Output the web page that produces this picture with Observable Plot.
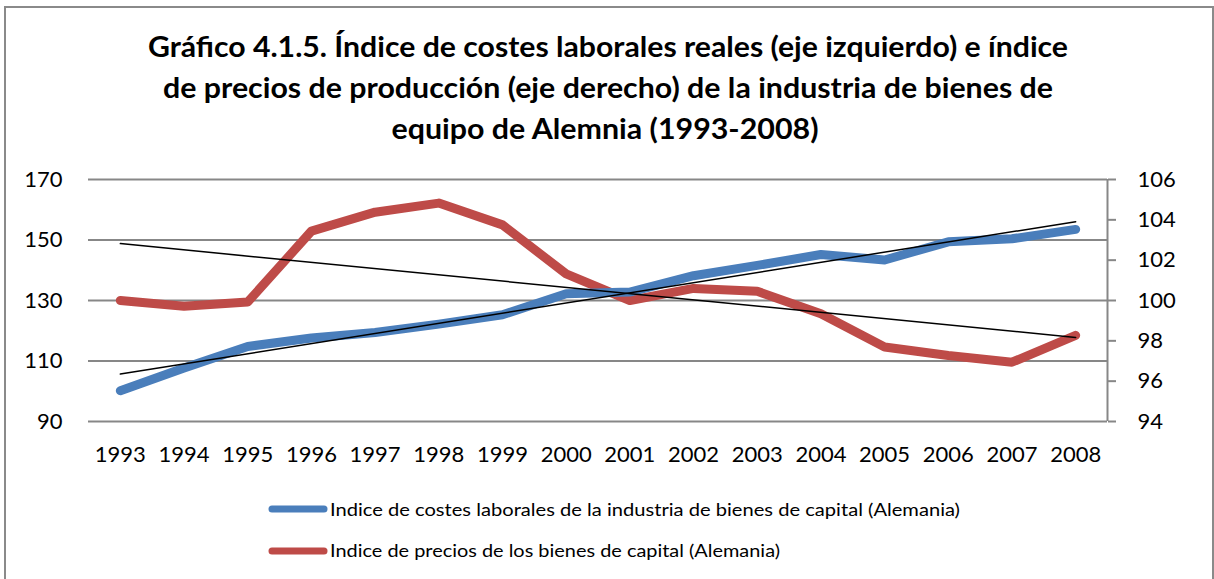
<!DOCTYPE html>
<html>
<head>
<meta charset="utf-8">
<script src="https://cdn.jsdelivr.net/npm/d3@7"></script>
<script src="https://cdn.jsdelivr.net/npm/@observablehq/plot@0.6"></script>
<style>
  html, body { margin: 0; padding: 0; background: #fff; }
  #chart { position: relative; width: 1214px; height: 579px; overflow: hidden; font-family: Lato, "Noto Sans", sans-serif; }
  #frame { position: absolute; left: 4px; top: 6px; width: 1210px; height: 620px; border: 2px solid #8a8a8a; box-sizing: border-box; }
  #title { position: absolute; left: 0; top: 0; }
  #plot { position: absolute; left: 0; top: 150px; }
  #legend { position: absolute; left: 0; top: 480px; }
</style>
</head>
<body>
<div id="chart">
  <div id="frame"></div>
  <svg id="title" width="1214" height="150" xmlns="http://www.w3.org/2000/svg">
    <g font-family="Lato, 'Noto Sans', sans-serif" font-weight="bold" font-size="28" fill="#000" text-anchor="middle">
      <text x="608" y="57" textLength="920" lengthAdjust="spacingAndGlyphs">Gráfico 4.1.5. Índice de costes laborales reales (eje izquierdo) e índice</text>
      <text x="608" y="98" textLength="890" lengthAdjust="spacingAndGlyphs">de precios de producción (eje derecho) de la industria de bienes de</text>
      <text x="605" y="139" textLength="427" lengthAdjust="spacingAndGlyphs">equipo de Alemnia (1993-2008)</text>
    </g>
  </svg>
  <div id="plot"></div>
  <svg id="legend" width="1214" height="99" xmlns="http://www.w3.org/2000/svg">
    <g font-family="Lato, 'Noto Sans', sans-serif" font-size="18" fill="#000">
      <line x1="272" x2="324" y1="29" y2="29" stroke="#4a7ebb" stroke-width="7" stroke-linecap="round"></line>
      <text x="330" y="36" textLength="630" lengthAdjust="spacingAndGlyphs">Indice de costes laborales de la industria de bienes de capital (Alemania)</text>
      <line x1="272" x2="324" y1="71" y2="71" stroke="#be4b48" stroke-width="7" stroke-linecap="round"></line>
      <text x="330" y="77" textLength="450" lengthAdjust="spacingAndGlyphs">Indice de precios de los bienes de capital (Alemania)</text>
    </g>
  </svg>
</div>
<script>
// ---- data ----
const years = [1993, 1994, 1995, 1996, 1997, 1998, 1999, 2000, 2001, 2002, 2003, 2004, 2005, 2006, 2007, 2008];
// Índice de costes laborales (eje izquierdo)
const costes = [100.2, 107.7, 114.8, 117.6, 119.4, 122.2, 125.3, 132.2, 132.8, 138.2, 141.6, 145.2, 143.4, 149.4, 150.4, 153.5];
// Índice de precios (eje derecho)
const precios = [100.0, 99.72, 99.92, 103.44, 104.38, 104.83, 103.75, 101.32, 100.0, 100.6, 100.46, 99.34, 97.69, 97.27, 96.94, 98.27];
// tick labels
const leftTicks = [90, 110, 130, 150, 170];
const rightTicks = [94, 96, 98, 100, 102, 104, 106];

// map right axis (94–106) onto left axis (90–170)
const toLeft = v => 90 + (v - 94) * 80 / 12;
const toRight = v => 94 + (v - 90) * 12 / 80;

const data = years.map((y, i) => ({ year: y, costes: costes[i], precios: precios[i], preciosL: toLeft(precios[i]) }));

const gray = "#878787";

const chart = Plot.plot({
  width: 1214,
  height: 330,
  marginTop: 29,
  marginBottom: 59,
  marginLeft: 88,
  marginRight: 107,
  style: { fontFamily: "Lato, 'Noto Sans', sans-serif", fontSize: "22px", color: "#000", background: "transparent" },
  x: { domain: [1992.5, 2008.5], axis: null },
  y: { domain: [90, 170], axis: null },
  marks: [
    Plot.gridY(leftTicks, { stroke: gray, strokeOpacity: 1, strokeWidth: 2 }),
    Plot.axisY(leftTicks, { anchor: "left", tickSize: 0, tickPadding: 26, label: null, fontSize: 22 }),
    Plot.axisY(rightTicks.map(toLeft), {
      anchor: "right", tickSize: 8, tickPadding: 22, label: null, fontSize: 22,
      stroke: gray, strokeWidth: 2, fill: "#000",
      tickFormat: d => String(Math.round(toRight(d)))
    }),
    Plot.ruleX([2008.5], { y1: 90, y2: 170, stroke: gray, strokeWidth: 2 }),
    Plot.axisX(years, { anchor: "bottom", tickSize: 0, tickPadding: 25, label: null, fontSize: 22, tickFormat: d => String(d) }),
    Plot.line(data, { x: "year", y: "preciosL", stroke: "#be4b48", strokeWidth: 9, strokeLinecap: "round", strokeLinejoin: "round" }),
    Plot.line(data, { x: "year", y: "costes", stroke: "#4a7ebb", strokeWidth: 9, strokeLinecap: "round", strokeLinejoin: "round" }),
    Plot.linearRegressionY(data, { x: "year", y: "costes", stroke: "#000", strokeWidth: 1.5, ci: 0 }),
    Plot.linearRegressionY(data, { x: "year", y: "preciosL", stroke: "#000", strokeWidth: 1.5, ci: 0 })
  ]
});
document.getElementById("plot").appendChild(chart);
</script>
</body>
</html>
